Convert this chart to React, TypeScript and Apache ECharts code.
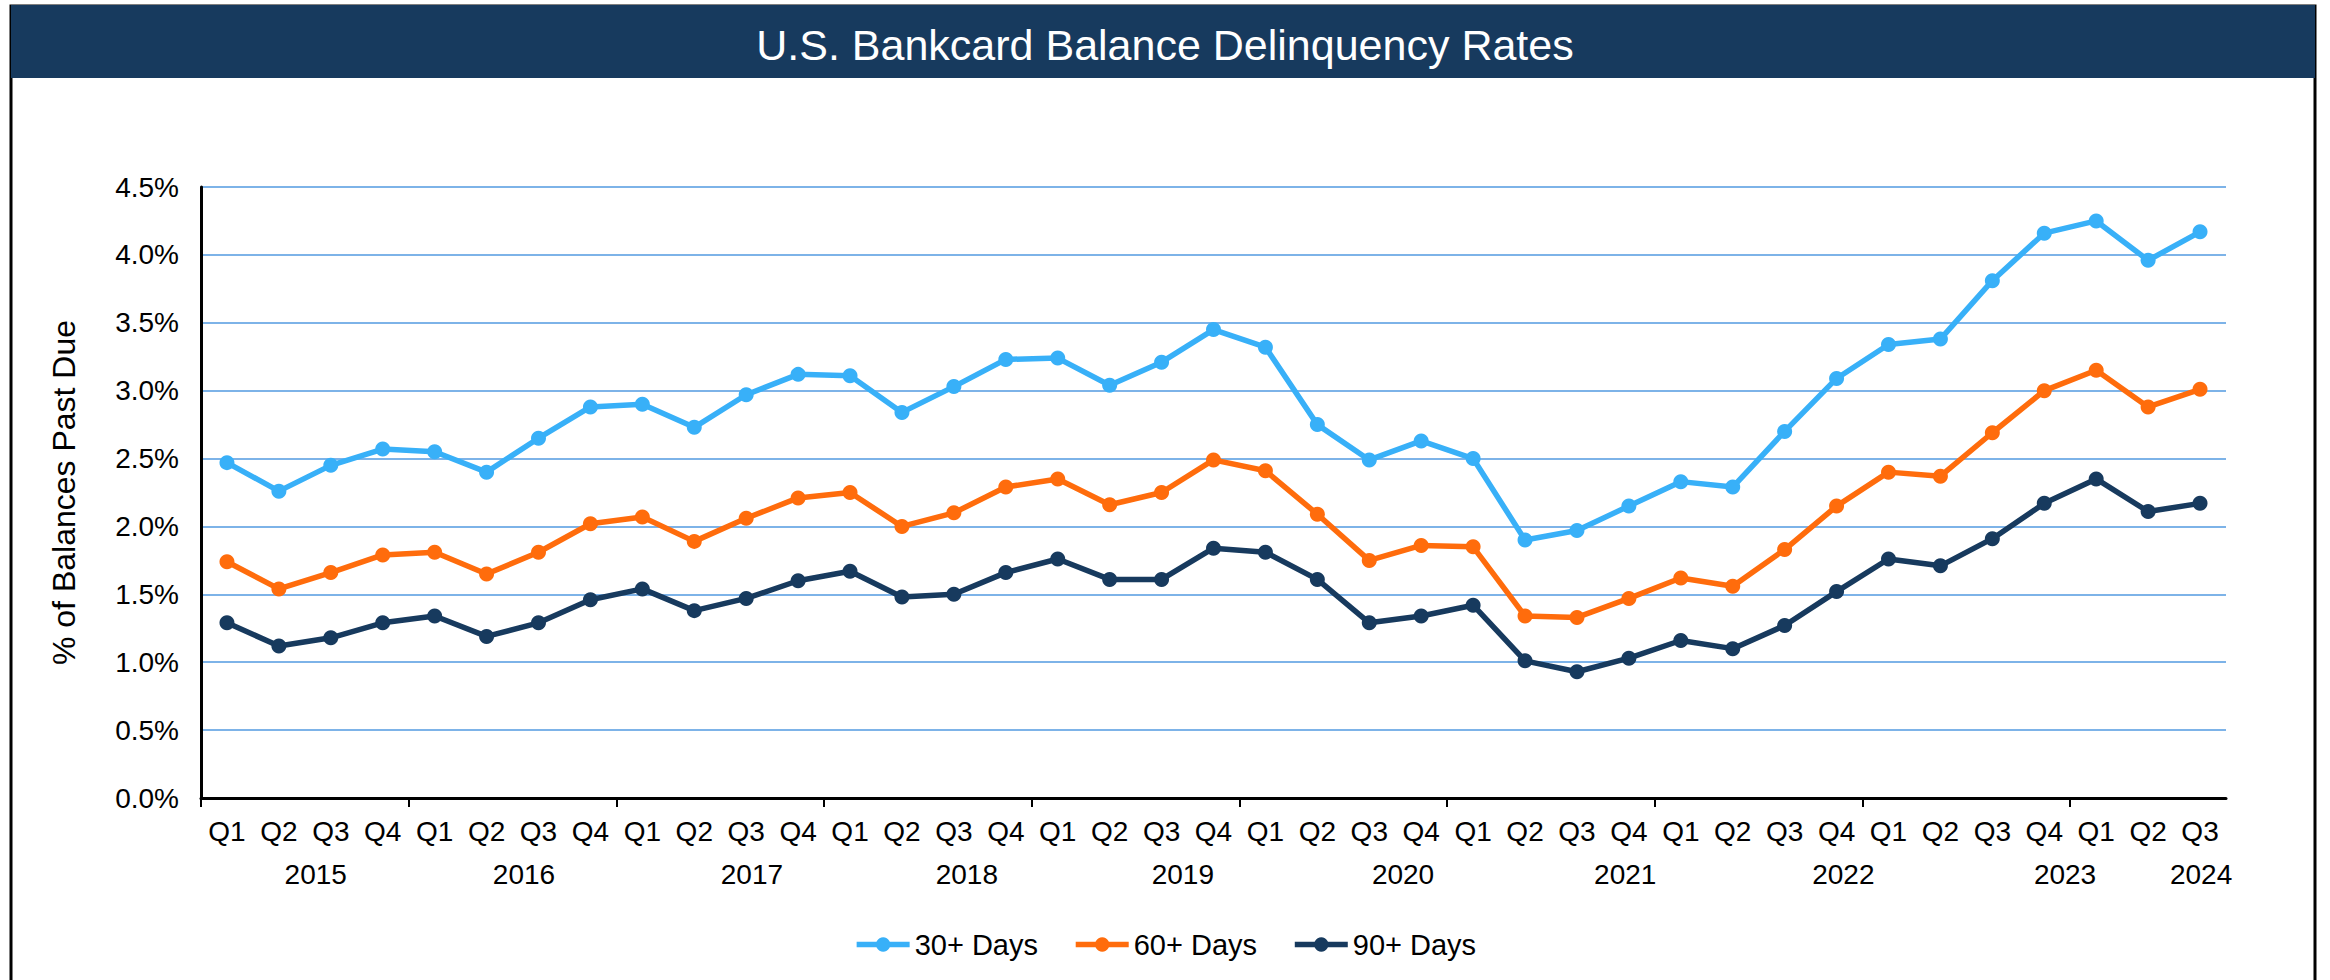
import React, { useEffect, useRef } from 'react';
import * as echarts from 'echarts';

const quarters = [
  'Q1', 'Q2', 'Q3', 'Q4', 'Q1', 'Q2', 'Q3', 'Q4', 'Q1', 'Q2', 'Q3', 'Q4',
  'Q1', 'Q2', 'Q3', 'Q4', 'Q1', 'Q2', 'Q3', 'Q4', 'Q1', 'Q2', 'Q3', 'Q4',
  'Q1', 'Q2', 'Q3', 'Q4', 'Q1', 'Q2', 'Q3', 'Q4', 'Q1', 'Q2', 'Q3', 'Q4',
  'Q1', 'Q2', 'Q3',
];
const years = ['2015', '2016', '2017', '2018', '2019', '2020', '2021', '2022', '2023', '2024'];
// where each year label sits along the category axis (category index units)
const yearLabelPos = [1.71, 5.72, 10.11, 14.25, 18.41, 22.65, 26.93, 31.13, 35.4, 38.02];

const days30 = [
  2.47, 2.26, 2.45, 2.57, 2.55, 2.40, 2.65, 2.88, 2.90, 2.73, 2.97, 3.12, 3.11,
  2.84, 3.03, 3.23, 3.24, 3.04, 3.21, 3.45, 3.32, 2.75, 2.49, 2.63, 2.50, 1.90,
  1.97, 2.15, 2.33, 2.29, 2.70, 3.09, 3.34, 3.38, 3.81, 4.16, 4.25, 3.96, 4.17,
];
const days60 = [
  1.74, 1.54, 1.66, 1.79, 1.81, 1.65, 1.81, 2.02, 2.07, 1.89, 2.06, 2.21, 2.25,
  2.00, 2.10, 2.29, 2.35, 2.16, 2.25, 2.49, 2.41, 2.09, 1.75, 1.86, 1.85, 1.34,
  1.33, 1.47, 1.62, 1.56, 1.83, 2.15, 2.40, 2.37, 2.69, 3.00, 3.15, 2.88, 3.01,
];
const days90 = [
  1.29, 1.12, 1.18, 1.29, 1.34, 1.19, 1.29, 1.46, 1.54, 1.38, 1.47, 1.60, 1.67,
  1.48, 1.50, 1.66, 1.76, 1.61, 1.61, 1.84, 1.81, 1.61, 1.29, 1.34, 1.42, 1.01,
  0.93, 1.03, 1.16, 1.10, 1.27, 1.52, 1.76, 1.71, 1.91, 2.17, 2.35, 2.11, 2.17,
];
const seriesNames = ['30+ Days', '60+ Days', '90+ Days'];

const FONT = '"Liberation Sans", Arial, sans-serif';
const NAVY = '#173a5e';
const COLORS = ['#38b0f8', '#ff6c0c', '#173a5e'];

export default function App() {
  const ref = useRef<HTMLDivElement>(null);

  useEffect(() => {
    if (!ref.current) return;
    const chart = echarts.init(ref.current, undefined, { renderer: 'svg' });
    const yearBoundaries = quarters
      .map((q, i) => (q === 'Q1' ? i - 0.5 : null))
      .filter((v) => v !== null) as number[];

    const mk = (name: string, data: number[], color: string) => ({
      name,
      type: 'line',
      data,
      xAxisIndex: 0,
      yAxisIndex: 0,
      symbol: 'circle',
      symbolSize: 15,
      lineStyle: { width: 5.5, color },
      itemStyle: { color },
      z: 3,
    });

    chart.setOption({
      animation: false,
      backgroundColor: '#ffffff',
      textStyle: { fontFamily: FONT },
      graphic: [
        {
          type: 'rect',
          shape: { x: 11, y: 6, width: 2304, height: 1000 },
          style: { fill: 'none', stroke: '#000', lineWidth: 3 },
          z: 0,
        },
        {
          type: 'rect',
          shape: { x: 11, y: 5, width: 2304, height: 73 },
          style: { fill: NAVY },
          z: 1,
        },
      ],
      title: {
        text: 'U.S. Bankcard Balance Delinquency Rates',
        left: 'center',
        top: 18,
        textStyle: { color: '#ffffff', fontSize: 43, fontWeight: 'normal', fontFamily: FONT },
        z: 10,
      },
      legend: {
        data: seriesNames,
        left: 'center',
        top: 925,
        itemWidth: 53,
        itemHeight: 18,
        itemGap: 35,
        lineStyle: { width: 5.5 },
        textStyle: { fontSize: 29, color: '#000', fontFamily: FONT },
      },
      grid: { left: 201, right: 104, top: 187, bottom: 182, containLabel: false },
      xAxis: [
        {
          type: 'category',
          data: quarters,
          boundaryGap: true,
          axisLine: { show: true, onZero: false, lineStyle: { color: '#000', width: 3 } },
          axisTick: { show: false },
          axisLabel: { interval: 0, fontSize: 28, color: '#000', margin: 19, fontFamily: FONT },
          splitLine: { show: false },
        },
        {
          type: 'value',
          min: -0.5,
          max: 38.5,
          position: 'bottom',
          axisLine: { show: false, onZero: false },
          splitLine: { show: false },
          axisTick: {
            show: true,
            customValues: yearBoundaries,
            length: 9,
            lineStyle: { color: '#000', width: 2 },
          },
          axisLabel: {
            show: true,
            customValues: yearLabelPos,
            fontSize: 28,
            color: '#000',
            margin: 62,
            fontFamily: FONT,
            formatter: (v: number) => {
              let best = 0;
              for (let i = 1; i < yearLabelPos.length; i++) {
                if (Math.abs(yearLabelPos[i] - v) < Math.abs(yearLabelPos[best] - v)) best = i;
              }
              return years[best];
            },
          },
        },
      ],
      yAxis: {
        type: 'value',
        min: 0,
        max: 4.5,
        interval: 0.5,
        name: '% of Balances Past Due',
        nameLocation: 'middle',
        nameGap: 121,
        nameTextStyle: { fontSize: 32, color: '#000', fontFamily: FONT },
        axisLine: { show: true, onZero: false, lineStyle: { color: '#000', width: 3 } },
        axisTick: { show: false },
        axisLabel: {
          fontSize: 28,
          color: '#000',
          margin: 22,
          fontFamily: FONT,
          formatter: (v: number) => v.toFixed(1) + '%',
        },
        splitLine: { show: true, lineStyle: { color: '#7db3e8', width: 2 } },
      },
      series: [
        mk(seriesNames[0], days30, COLORS[0]),
        mk(seriesNames[1], days60, COLORS[1]),
        mk(seriesNames[2], days90, COLORS[2]),
      ],
    });
    return () => chart.dispose();
  }, []);

  return (
    <div
      ref={ref}
      style={{ position: 'fixed', left: 0, top: 0, width: 2330, height: 980 }}
    />
  );
}
